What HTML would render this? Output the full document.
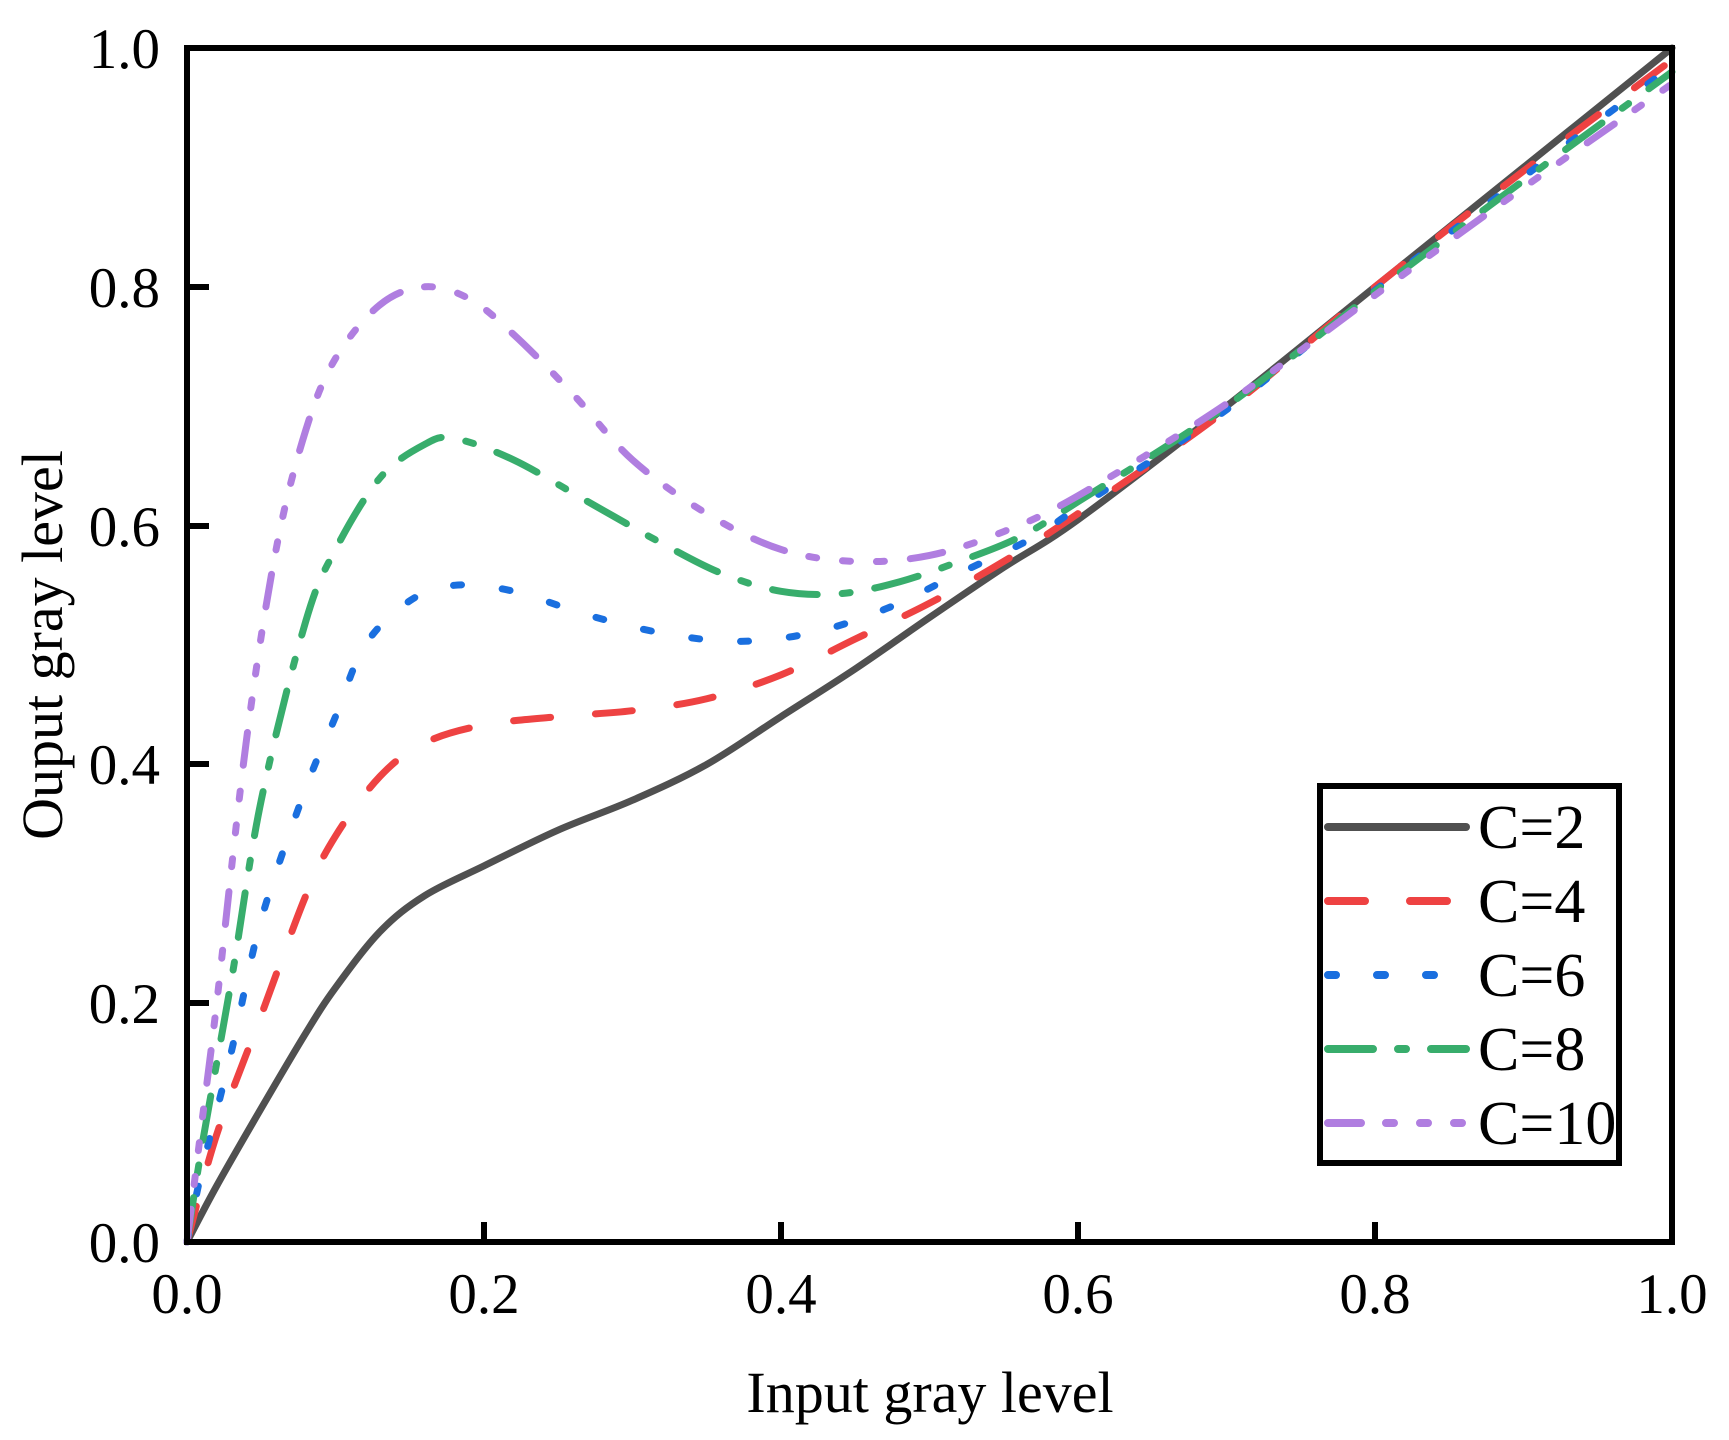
<!DOCTYPE html>
<html><head><meta charset="utf-8"><style>
html,body{margin:0;padding:0;background:#fff}
svg{display:block}
text{font-family:"Liberation Serif",serif;fill:#000}
</style></head><body>
<svg id="s" width="1729" height="1440" viewBox="0 0 1729 1440" xmlns="http://www.w3.org/2000/svg">
<g id="curves" fill="none" stroke-width="7" stroke-linecap="round" stroke-linejoin="round"></g>
<rect x="187" y="48" width="1485" height="1194" fill="none" stroke="#000" stroke-width="6"/>
<g stroke="#000" stroke-width="6">
<line x1="484" y1="1242" x2="484" y2="1222"/><line x1="781" y1="1242" x2="781" y2="1222"/>
<line x1="1078" y1="1242" x2="1078" y2="1222"/><line x1="1375" y1="1242" x2="1375" y2="1222"/>
<line x1="187" y1="1003" x2="209" y2="1003"/><line x1="187" y1="764" x2="209" y2="764"/>
<line x1="187" y1="526" x2="209" y2="526"/><line x1="187" y1="287" x2="209" y2="287"/>
</g>
<g font-size="57" text-anchor="middle">
<text x="187" y="1313">0.0</text><text x="484" y="1313">0.2</text><text x="781" y="1313">0.4</text>
<text x="1078" y="1313">0.6</text><text x="1375" y="1313">0.8</text><text x="1672" y="1313">1.0</text>
</g>
<g font-size="57" text-anchor="end">
<text x="160" y="1262">0.0</text><text x="160" y="1023">0.2</text><text x="160" y="784">0.4</text>
<text x="160" y="546">0.6</text><text x="160" y="307">0.8</text><text x="160" y="68">1.0</text>
</g>
<text x="930" y="1412" font-size="58" text-anchor="middle">Input gray level</text>
<text transform="translate(62,645) rotate(-90)" font-size="58" text-anchor="middle">Ouput gray level</text>
<rect x="1320" y="786" width="299" height="377" fill="#fff" stroke="#000" stroke-width="6"/>
<g stroke-width="8" stroke-linecap="round" fill="none">
<line x1="1328" y1="827" x2="1466" y2="827" stroke="#505050"/>
<line x1="1328" y1="901" x2="1466" y2="901" stroke="#ee4242" stroke-dasharray="37 45"/>
<line x1="1328" y1="975" x2="1466" y2="975" stroke="#1a6fdf" stroke-dasharray="8 41"/>
<line x1="1328" y1="1049" x2="1466" y2="1049" stroke="#38ad6c" stroke-dasharray="45 25 8 25"/>
<line x1="1328" y1="1123" x2="1466" y2="1123" stroke="#b07ee0" stroke-dasharray="33 25 8 26 8 26 8 26"/>
</g>
<g font-size="62">
<text x="1478" y="848">C=2</text><text x="1478" y="922">C=4</text><text x="1478" y="996">C=6</text>
<text x="1478" y="1070">C=8</text><text x="1478" y="1144">C=10</text>
</g>
</svg>
<script>
var X0=187,X1=1672,Y0=1242,Y1=48;
function px(p){return [X0+p[0]*(X1-X0),Y0-p[1]*(Y0-Y1)];}
var S=[
["#505050","",[[0,0],[0.02,0.047],[0.05,0.112],[0.08,0.175],[0.1,0.213],[0.13,0.26],[0.16,0.29],[0.2,0.315],[0.25,0.345],[0.3,0.37],[0.35,0.40],[0.4,0.44],[0.45,0.48],[0.5,0.523],[0.55,0.565],[0.6,0.605],[0.7,0.7],[0.8,0.8],[0.9,0.9],[1,1]]],
["#ee4242","37 45",[[0,0],[0.02,0.09],[0.05,0.19],[0.08,0.29],[0.1,0.34],[0.13,0.39],[0.16,0.418],[0.2,0.433],[0.25,0.44],[0.3,0.445],[0.35,0.455],[0.4,0.475],[0.45,0.505],[0.5,0.535],[0.55,0.57],[0.6,0.61],[0.7,0.697],[0.8,0.8],[0.9,0.897],[1,0.99]]],
["#1a6fdf","8 41",[[0,0],[0.01,0.06],[0.03,0.16],[0.05,0.27],[0.08,0.38],[0.1,0.44],[0.12,0.5],[0.15,0.537],[0.18,0.55],[0.22,0.545],[0.27,0.525],[0.32,0.51],[0.37,0.503],[0.42,0.51],[0.47,0.53],[0.52,0.56],[0.57,0.59],[0.6,0.615],[0.7,0.697],[0.8,0.797],[0.9,0.892],[1,0.985]]],
["#38ad6c","45 25 8 25",[[0,0],[0.01,0.08],[0.03,0.22],[0.05,0.37],[0.08,0.52],[0.1,0.58],[0.13,0.64],[0.16,0.668],[0.18,0.673],[0.22,0.655],[0.27,0.62],[0.32,0.585],[0.36,0.56],[0.4,0.545],[0.44,0.543],[0.48,0.553],[0.52,0.57],[0.56,0.59],[0.6,0.62],[0.7,0.7],[0.8,0.796],[0.9,0.889],[1,0.98]]],
["#b07ee0","33 25 8 26 8 26 8 26",[[0,0],[0.01,0.1],[0.02,0.2],[0.04,0.42],[0.06,0.58],[0.08,0.68],[0.1,0.74],[0.13,0.785],[0.16,0.8],[0.19,0.79],[0.22,0.76],[0.26,0.71],[0.3,0.655],[0.35,0.61],[0.4,0.58],[0.45,0.57],[0.5,0.575],[0.55,0.595],[0.6,0.625],[0.7,0.702],[0.8,0.793],[0.9,0.883],[1,0.97]]]
];
var g=document.getElementById("curves");
S.forEach(function(s){
 var P=s[2].map(px),d="M"+P[0][0]+","+P[0][1];
 for(var i=0;i<P.length-1;i++){
  var p0=P[Math.max(i-1,0)],p1=P[i],p2=P[i+1],p3=P[Math.min(i+2,P.length-1)];
  var c1=[p1[0]+(p2[0]-p0[0])/6,p1[1]+(p2[1]-p0[1])/6],c2=[p2[0]-(p3[0]-p1[0])/6,p2[1]-(p3[1]-p1[1])/6];
  d+=" C"+c1+" "+c2+" "+p2;
 }
 var e=document.createElementNS("http://www.w3.org/2000/svg","path");
 e.setAttribute("d",d);e.setAttribute("stroke",s[0]);
 if(s[1])e.setAttribute("stroke-dasharray",s[1]);
 g.appendChild(e);
});
</script>
</body></html>
